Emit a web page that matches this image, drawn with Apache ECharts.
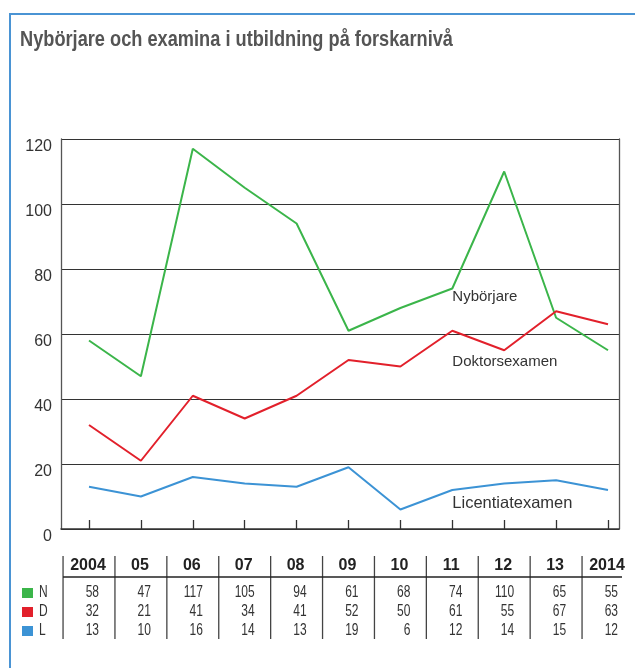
<!DOCTYPE html>
<html>
<head>
<meta charset="utf-8">
<script src="https://cdn.jsdelivr.net/npm/echarts@6.0.0/dist/echarts.min.js"></script>
<style>
  html, body { margin: 0; padding: 0; background: #fff; }
  #frame {
    position: absolute; left: 9px; top: 13px; width: 640px; height: 670px;
    border-top: 2px solid #4a94d4; border-left: 2px solid #4a94d4;
  }
  #chart { position: absolute; left: 0; top: 0; width: 635px; height: 668px; }
</style>
</head>
<body>
<div id="frame"></div>
<div id="chart"></div>
<script>
// Data
const years = ['2004', '05', '06', '07', '08', '09', '10', '11', '12', '13', '2014'];
const nyborjare = [58, 47, 117, 105, 94, 61, 68, 74, 110, 65, 55];
const doktorsexamen = [32, 21, 41, 34, 41, 52, 50, 61, 55, 67, 63];
const licentiatexamen = [13, 10, 16, 14, 13, 19, 6, 12, 14, 15, 12];

const GREEN = '#3bb54a';
const RED = '#e2202b';
const BLUE = '#3c93d5';
const SANS = "'Liberation Sans', Arial, sans-serif";
const TITLE = 'Nybörjare och examina i utbildning på forskarnivå';
const TITLE_FONT = 'bold 22px ' + SANS;

// the original uses a condensed face, so squeeze a normal one to the same width
function squeeze(text, font, targetWidth) {
    const ctx = document.createElement('canvas').getContext('2d');
    ctx.font = font;
    return targetWidth / ctx.measureText(text).width;
}

const chart = echarts.init(document.getElementById('chart'), null, { renderer: 'canvas' });

const lineSeries = (name, data, color) => ({
    name: name,
    type: 'line',
    xAxisIndex: 1,
    yAxisIndex: 2,
    data: data,
    symbol: 'none',
    lineStyle: { color: color, width: 2 },
    itemStyle: { color: color },
    z: 5
});

chart.setOption({
    animation: false,
    grid: [
        // outer box with y gridlines
        { left: 61, right: 16, top: 139, bottom: 139 },
        // data area, years placed at the tick marks
        { left: 89, right: 27, top: 139, bottom: 139 }
    ],
    xAxis: [
        {
            gridIndex: 0, type: 'value', min: 0, max: 1,
            axisLine: { show: true, lineStyle: { color: '#333', width: 1.5 } },
            axisTick: { show: false }, axisLabel: { show: false }, splitLine: { show: false }
        },
        {
            gridIndex: 1, type: 'category', data: years, boundaryGap: false,
            axisLine: { show: false },
            axisTick: { show: true, inside: true, length: 9, lineStyle: { color: '#333', width: 1.3 } },
            axisLabel: { show: false }, splitLine: { show: false }
        }
    ],
    yAxis: [
        {
            gridIndex: 0, type: 'value', min: 0, max: 120, interval: 20,
            axisLine: { show: true, lineStyle: { color: '#555', width: 1.3 } },
            axisTick: { show: false },
            axisLabel: {
                color: '#333', fontFamily: SANS, fontSize: 16, margin: 9,
                verticalAlign: 'top', lineHeight: 15
            },
            splitLine: { show: true, lineStyle: { color: '#333', width: 1 } }
        },
        {
            gridIndex: 0, type: 'value', min: 0, max: 120, position: 'right',
            axisLine: { show: true, lineStyle: { color: '#555', width: 1.3 } },
            axisTick: { show: false }, axisLabel: { show: false }, splitLine: { show: false }
        },
        {
            gridIndex: 1, type: 'value', min: 0, max: 120, show: false
        }
    ],
    series: [
        lineSeries('Nybörjare', nyborjare, GREEN),
        lineSeries('Doktorsexamen', doktorsexamen, RED),
        lineSeries('Licentiatexamen', licentiatexamen, BLUE)
    ]
});

// Pixel positions of each year, taken from the category axis
const colX = years.map((y, i) => chart.convertToPixel({ xAxisIndex: 1 }, i));
const toPx = (xv, yv) => chart.convertToPixel({ xAxisIndex: 1, yAxisIndex: 2 }, [xv, yv]);

const graphics = [];

// Title
graphics.push({
    type: 'text', x: 20, y: 40, scaleX: squeeze(TITLE, TITLE_FONT, 433),
    style: { text: TITLE, font: TITLE_FONT, fill: '#555', align: 'left', verticalAlign: 'middle' }
});

// Line labels
const lineLabels = [
    ['Nybörjare', 7.1, 71.4, 15],
    ['Doktorsexamen', 7.1, 51.4, 15],
    ['Licentiatexamen', 7.1, 8, 16.5]
];
lineLabels.forEach(([text, xv, yv, size]) => {
    const p = toPx(xv, yv);
    graphics.push({
        type: 'text', x: p[0], y: p[1],
        style: { text: text, font: size + 'px ' + SANS, fill: '#333', verticalAlign: 'middle', align: 'left' }
    });
});

// Table under the chart
const headerY = 566;
const rowYs = [593, 612, 631];
const rows = [
    { key: 'N', color: GREEN, values: nyborjare },
    { key: 'D', color: RED, values: doktorsexamen },
    { key: 'L', color: BLUE, values: licentiatexamen }
];
const step = colX[1] - colX[0];
const NUM_FONT = '16px ' + SANS;

years.forEach((yr, i) => {
    const sepX = i === 0 ? colX[0] - step / 2 : (colX[i - 1] + colX[i]) / 2;
    graphics.push({
        type: 'line', shape: { x1: sepX, y1: 556, x2: sepX, y2: 639 },
        style: { stroke: '#444', lineWidth: 1.3 }
    });
    graphics.push({
        type: 'text', x: colX[i] - 1, y: headerY,
        style: { text: yr, font: 'bold 16px ' + SANS, fill: '#222', align: 'center', verticalAlign: 'middle' }
    });
    rows.forEach((r, k) => {
        graphics.push({
            type: 'text', x: colX[i] + 10, y: rowYs[k], scaleX: 0.75,
            style: { text: String(r.values[i]), font: NUM_FONT, fill: '#333', align: 'right', verticalAlign: 'middle' }
        });
    });
});

graphics.push({
    type: 'line', shape: { x1: colX[0] - step / 2, y1: 577, x2: 622, y2: 577 },
    style: { stroke: '#222', lineWidth: 1.5 }
});

rows.forEach((r, k) => {
    graphics.push({
        type: 'rect', shape: { x: 22, y: rowYs[k] - 5, width: 11, height: 10 },
        style: { fill: r.color }
    });
    graphics.push({
        type: 'text', x: 39, y: rowYs[k], scaleX: 0.75,
        style: { text: r.key, font: NUM_FONT, fill: '#333', align: 'left', verticalAlign: 'middle' }
    });
});

chart.setOption({ graphic: graphics });
</script>
</body>
</html>
